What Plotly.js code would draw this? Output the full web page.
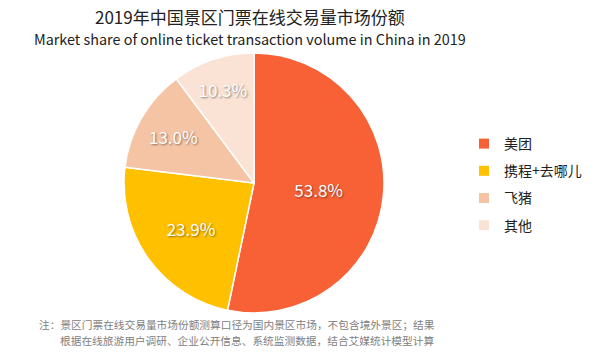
<!DOCTYPE html>
<html><head><meta charset="utf-8">
<script src="https://cdn.plot.ly/plotly-3.0.1.min.js"></script>
<style>html,body{margin:0;padding:0;background:#fff}#chart{width:600px;height:353px}</style>
</head><body><div id="chart"></div>
<script>
const categories = ['美团', '携程+去哪儿', '飞猪', '其他'];
const shares = [53.8, 23.9, 13.0, 10.3];
const colors = ['#F86136', '#FFC000', '#F5C4A5', '#FAE2D4'];
const titleCn = '2019年中国景区门票在线交易量市场份额';
const titleEn = 'Market share of online ticket transaction volume in China in 2019';
const noteLine1 = '注：景区门票在线交易量市场份额测算口径为国内景区市场，不包含境外景区；结果';
const noteLine2 = '根据在线旅游用户调研、企业公开信息、系统监测数据，结合艾媒统计模型计算';
const FONT = '"Noto Sans CJK SC", "Noto Sans", sans-serif';

const pie = {
  type: 'pie',
  labels: categories,
  values: shares,
  text: shares.map(v => v.toFixed(1) + '%'),
  textinfo: 'text',
  hoverinfo: 'label+text',
  sort: false,
  direction: 'clockwise',
  rotation: 0,
  showlegend: false,
  marker: {colors: colors, line: {color: '#ffffff', width: 1.5}},
  textposition: 'inside',
  insidetextorientation: 'horizontal',
  textfont: {family: FONT, size: 17, color: '#ffffff', shadow: '1px 1px 2px rgba(0,0,0,0.45)'},
  domain: {x: [123/600, 385/600], y: [1 - 313/353, 1 - 53/353]}
};

// legend entries (one per category, same colours as the slices)
const legendTraces = categories.map((c, i) => ({
  type: 'scatter', mode: 'markers', x: [null], y: [null],
  name: c, legendgroup: 'g' + i, showlegend: true, hoverinfo: 'skip',
  marker: {symbol: 'square', size: 10, color: colors[i]}
}));

const layout = {
  width: 600, height: 353,
  margin: {l: 0, r: 0, t: 0, b: 0},
  paper_bgcolor: '#ffffff',
  plot_bgcolor: 'rgba(0,0,0,0)',
  font: {family: FONT},
  xaxis: {visible: false}, yaxis: {visible: false},
  showlegend: true,
  legend: {
    x: 464/600, y: 1 - 128/353, xanchor: 'left', yanchor: 'top',
    font: {family: FONT, size: 14, color: '#222222'},
    itemwidth: 30, valign: 'middle', tracegroupgap: 6, traceorder: 'grouped'
  },
  annotations: [
    {text: titleCn, x: 250/600, y: 1 - 17/353, xref: 'paper', yref: 'paper', showarrow: false,
     font: {family: FONT, size: 17, color: '#222222'}, xanchor: 'center', yanchor: 'middle'},
    {text: titleEn, x: 250/600, y: 1 - 38/353, xref: 'paper', yref: 'paper', showarrow: false,
     font: {family: FONT, size: 14.4, color: '#222222'}, xanchor: 'center', yanchor: 'middle'},
    {text: noteLine1, x: 37/600, y: 1 - 324/353, xref: 'paper', yref: 'paper', showarrow: false,
     font: {family: FONT, size: 10.7, color: '#808080'}, xanchor: 'left', yanchor: 'middle'},
    {text: noteLine2, x: 58/600, y: 1 - 340/353, xref: 'paper', yref: 'paper', showarrow: false,
     font: {family: FONT, size: 10.7, color: '#808080'}, xanchor: 'left', yanchor: 'middle'}
  ]
};

Plotly.newPlot('chart', [pie].concat(legendTraces), layout, {displayModeBar: false, staticPlot: true});
</script></body></html>
